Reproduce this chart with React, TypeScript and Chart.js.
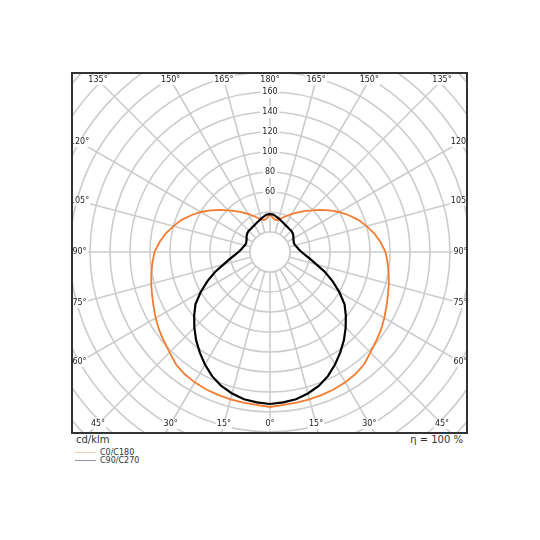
import { useEffect, useRef } from 'react';
import { Chart, registerables } from 'chart.js';

Chart.register(...registerables);
Chart.defaults.font.family = "'DejaVu Sans', sans-serif";

// gamma angles of the measured half planes (deg, 0 = straight down)
const gammaAngles = [
    0, 5, 10, 15, 20, 25, 30, 35, 40, 45, 50, 55, 60, 65, 70, 75, 80, 85, 90,
    95, 100, 105, 110, 115, 120, 125, 130, 135, 140, 145, 150, 155, 160, 165, 170, 175, 180
];
// luminous intensity, cd/klm
const c0c180 = [
    155, 153.5, 153, 152.5, 152, 151.5, 150.5, 149, 146.5, 142, 138.5, 135.5, 132, 128.5, 125.5, 123, 120.5, 118, 115.5,
    111, 106, 100, 94, 87, 80, 72.5, 65.5, 59, 53.5, 48.5, 44, 40, 36.5, 33.5, 32.5, 34, 38
];
const c90c270 = [
    152, 151, 149.5, 146.5, 142.5, 137, 130, 122.5, 115, 107, 99, 91, 80, 69, 58.5, 48, 41, 35.5, 31.5,
    29, 27.5, 26, 25.5, 26, 27, 28.5, 29.5, 30, 30, 30.5, 31, 32, 33, 34.5, 36, 37.5, 38
];
const ringLabels = [60, 80, 100, 120, 140, 160];
const angleStep = 15;
const seriesNames = ['C0/C180', 'C90/C270'];
const seriesColors = ['#f47b30', '#000000'];
const legendColors = ['#f9cfae', '#8a96a8'];

const GRID = '#cccccc';
const GRID_W = 1.6;
const R_MAX = 280;
const CANVAS = 2 * R_MAX + 12;

// polar direction, clockwise from the top, every 5 degrees
const polarAngles = Array.from({ length: 72 }, (_, i) => i * 5);
const gammaOf = (theta: number) => (theta <= 180 ? 180 - theta : theta - 180);
const mirror = (values: number[]) => polarAngles.map((t) => values[gammaAngles.indexOf(gammaOf(t))]);

const innerDisk = {
    id: 'innerDisk',
    beforeDatasetsDraw(chart: any) {
        const s = chart.scales.r;
        const ctx = chart.ctx;
        const r = s.getDistanceFromCenterForValue(20);
        ctx.save();
        ctx.beginPath();
        ctx.arc(s.xCenter, s.yCenter, r, 0, Math.PI * 2);
        ctx.fillStyle = '#fff';
        ctx.fill();
        ctx.strokeStyle = GRID;
        ctx.lineWidth = GRID_W;
        ctx.stroke();
        ctx.restore();
    }
};

const angleTicks = {
    id: 'angleTicks',
    afterDraw(chart: any) {
        const s = chart.scales.r;
        const ctx = chart.ctx;
        const hw = 190.5;
        const hh = 172;
        ctx.save();
        ctx.font = "8px 'DejaVu Sans'";
        ctx.textAlign = 'center';
        ctx.textBaseline = 'middle';
        polarAngles.forEach((theta, i) => {
            if (theta % angleStep !== 0) return;
            const p = s.getPointPosition(i, 1);
            const dx = Math.abs(p.x - s.xCenter);
            const dy = Math.abs(p.y - s.yCenter);
            const t = Math.min(dx > 1e-6 ? hw / dx : Infinity, dy > 1e-6 ? hh / dy : Infinity);
            const q = s.getPointPosition(i, t);
            const txt = gammaOf(theta) + '°';
            const w = ctx.measureText(txt).width;
            ctx.fillStyle = '#fff';
            ctx.fillRect(q.x - w / 2 - 1, q.y - 5, w + 2, 10);
            ctx.fillStyle = '#222';
            ctx.fillText(txt, q.x, q.y);
        });
        ctx.restore();
    }
};

function PolarLdc() {
    const canvasRef = useRef<HTMLCanvasElement>(null);

    useEffect(() => {
        if (!canvasRef.current) return;
        const chart = new Chart(canvasRef.current, {
            type: 'radar',
            data: {
                labels: polarAngles.map(String),
                datasets: [
                    {
                        label: seriesNames[0],
                        data: mirror(c0c180),
                        borderColor: seriesColors[0],
                        borderWidth: 1.8,
                        fill: false,
                        order: 1
                    },
                    {
                        label: seriesNames[1],
                        data: mirror(c90c270),
                        borderColor: seriesColors[1],
                        borderWidth: 2.2,
                        fill: false,
                        order: 0
                    }
                ]
            },
            options: {
                animation: false,
                responsive: false,
                events: [],
                elements: { point: { radius: 0 }, line: { tension: 0 } },
                plugins: { legend: { display: false }, tooltip: { enabled: false } },
                scales: {
                    r: {
                        min: 0,
                        max: R_MAX,
                        startAngle: 0,
                        grid: { circular: true, color: GRID, lineWidth: GRID_W },
                        angleLines: {
                            color: GRID,
                            lineWidth: (c: any) => (polarAngles[c.index] % angleStep === 0 ? GRID_W : 0)
                        },
                        pointLabels: { display: false },
                        ticks: {
                            stepSize: 20,
                            color: '#222',
                            font: { size: 8 },
                            backdropColor: '#fff',
                            backdropPadding: 2,
                            showLabelBackdrop: (c: any) => ringLabels.includes(c.tick?.value),
                            callback: (v: any) => (ringLabels.includes(Number(v)) ? String(v) : '')
                        }
                    }
                }
            },
            plugins: [innerDisk, angleTicks]
        });
        return () => chart.destroy();
    }, []);

    return (
        <canvas
            ref={canvasRef}
            width={CANVAS}
            height={CANVAS}
            style={{ position: 'absolute', left: 270 - 73 - CANVAS / 2, top: 252 - 74 - CANVAS / 2 }}
        />
    );
}

export default function App() {
    const text: React.CSSProperties = { position: 'absolute', color: '#333', whiteSpace: 'nowrap' };
    return (
        <div style={{ position: 'fixed', left: 0, top: 0, width: 540, height: 540, background: '#fff', overflow: 'hidden', fontFamily: "'DejaVu Sans', sans-serif" }}>
            <div style={{ position: 'absolute', left: 71, top: 72, width: 397, height: 362, boxSizing: 'border-box', border: '2px solid #333', overflow: 'hidden' }}>
                <PolarLdc />
            </div>
            <div style={{ ...text, left: 76, top: 434, fontSize: 10, lineHeight: '12px' }}>cd/klm</div>
            <div style={{ ...text, right: 77, top: 434, fontSize: 10, lineHeight: '12px' }}>η = 100 %</div>
            {seriesNames.map((name, i) => (
                <div key={name} style={{ ...text, left: 75, top: 448 + i * 7.8, height: 9, fontSize: 8, lineHeight: '9px' }}>
                    <span style={{ display: 'inline-block', width: 21, height: 1, background: legendColors[i], verticalAlign: 'middle', marginRight: 4 }} />
                    {name}
                </div>
            ))}
        </div>
    );
}
